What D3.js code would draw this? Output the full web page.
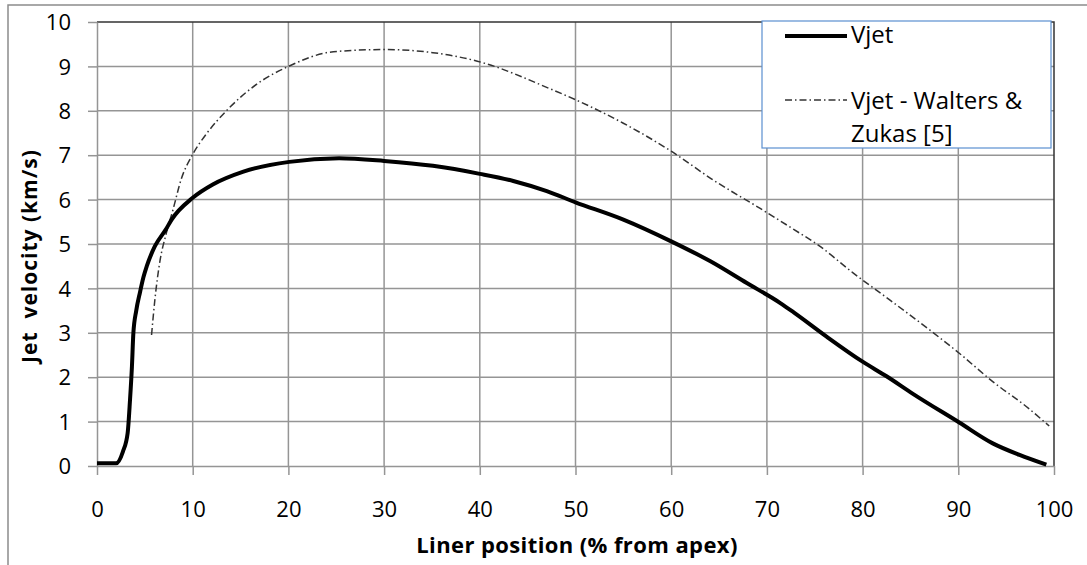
<!DOCTYPE html>
<html>
<head>
<meta charset="utf-8">
<script src="https://cdn.jsdelivr.net/npm/d3@7"></script>
<style>
  body { margin: 0; background: #fff; }
  svg { display: block; font-family: "Open Sans", sans-serif; }
</style>
</head>
<body>
<svg width="1087" height="565"></svg>
<script>
// Vjet (simulation) - liner position % vs jet velocity km/s
var vjetX = [0, 1, 2.0, 2.7, 3.2, 3.45, 3.65, 3.8, 4.1, 4.5, 4.85, 5.2, 6.05, 7.2, 7.8, 10, 12.1, 15.3, 20.1, 25.3, 30, 35.1, 40, 43.5, 47, 50, 55, 60, 64.1, 67.9, 71.4, 72.8, 76.2, 80, 82.5, 85.3, 90.1, 93.6, 96.4, 99.2];
var vjetY = [0.06, 0.06, 0.06, 0.32, 0.74, 1.49, 2.24, 2.99, 3.5, 3.92, 4.25, 4.5, 4.95, 5.33, 5.55, 6.04, 6.34, 6.63, 6.85, 6.93, 6.87, 6.76, 6.58, 6.42, 6.19, 5.94, 5.55, 5.06, 4.61, 4.12, 3.67, 3.46, 2.92, 2.35, 2.02, 1.62, 0.98, 0.51, 0.25, 0.03];

// Walters & Zukas [5]
var wzX = [5.7, 6.05, 6.55, 7.25, 7.95, 8.8, 10, 11.4, 13.7, 16.7, 20.1, 24.7, 30, 35.1, 40.2, 47.3, 50, 55, 60, 64.4, 69.3, 72.8, 75.4, 79, 82.9, 87.4, 90.1, 93.6, 97.1, 99.5];
var wzY = [2.95, 3.75, 4.58, 5.25, 5.78, 6.46, 7.02, 7.47, 8.04, 8.6, 9.01, 9.33, 9.38, 9.31, 9.09, 8.5, 8.25, 7.72, 7.09, 6.44, 5.8, 5.33, 4.97, 4.35, 3.73, 3.0, 2.54, 1.9, 1.34, 0.9];

var xTicks = [0, 10, 20, 30, 40, 50, 60, 70, 80, 90, 100];
var yTicks = [0, 1, 2, 3, 4, 5, 6, 7, 8, 9, 10];
var seriesNames = ["Vjet", "Vjet - Walters &", "Zukas [5]"];

var svg = d3.select("svg");
var pLeft = 97, pRight = 1054, pTop = 22, pBottom = 466;

var x = d3.scaleLinear().domain([0, 100]).range([pLeft, pRight]);
var y = d3.scaleLinear().domain([0, 10]).range([pBottom, pTop]);

// outer chart border
svg.append("rect")
    .attr("x", 8).attr("y", 5).attr("width", 1200).attr("height", 700)
    .attr("fill", "none").attr("stroke", "#8c8c8c").attr("stroke-width", 1.5);

// gridlines
var grid = svg.append("g").attr("stroke", "#959595").attr("stroke-width", 1.5);
grid.selectAll(".vg").data(xTicks.slice(1, -1)).enter().append("line")
    .attr("x1", function(d) { return x(d); }).attr("x2", function(d) { return x(d); })
    .attr("y1", pTop).attr("y2", pBottom);
grid.selectAll(".hg").data(yTicks.slice(1, -1)).enter().append("line")
    .attr("x1", pLeft).attr("x2", pRight)
    .attr("y1", function(d) { return y(d); }).attr("y2", function(d) { return y(d); });

// plot area border (dark top / right)
svg.append("path")
    .attr("d", "M" + pLeft + "," + pTop + "H" + pRight + "V" + pBottom)
    .attr("fill", "none").attr("stroke", "#333").attr("stroke-width", 1.5);

// axes
var xAxis = svg.append("g")
    .attr("transform", "translate(0," + pBottom + ")")
    .call(d3.axisBottom(x).tickValues(xTicks).tickSize(9).tickSizeOuter(0));
xAxis.selectAll("text").attr("y", 51).attr("dy", 0);

var yAxis = svg.append("g")
    .attr("transform", "translate(" + pLeft + ",0)")
    .call(d3.axisLeft(y).tickValues(yTicks).tickSize(9).tickSizeOuter(0));
yAxis.selectAll("text").attr("x", -26).attr("dy", "0.35em");

svg.selectAll(".domain, .tick line").attr("stroke", "#959595").attr("stroke-width", 1.5);
svg.selectAll(".tick text")
    .attr("fill", "#000")
    .style("font-family", "'Open Sans', sans-serif")
    .style("font-size", "22px");

// axis titles
svg.append("text")
    .attr("x", 577).attr("y", 553)
    .attr("text-anchor", "middle")
    .style("font-weight", "bold").style("font-size", "22px")
    .style("letter-spacing", "0.4px")
    .text("Liner position (% from apex)");

svg.append("text")
    .attr("transform", "translate(37,256) rotate(-90)")
    .attr("text-anchor", "middle")
    .style("font-weight", "bold").style("font-size", "21px")
    .style("letter-spacing", "1px")
    .style("white-space", "pre")
    .text("Jet  velocity (km/s)");

// lines
var line = d3.line()
    .x(function(d) { return x(d[0]); })
    .y(function(d) { return y(d[1]); })
    .curve(d3.curveMonotoneX);

svg.append("path")
    .datum(d3.zip(wzX, wzY))
    .attr("d", line)
    .attr("fill", "none")
    .attr("stroke", "#333").attr("stroke-width", 1.5)
    .attr("stroke-dasharray", "7,3,1.5,3");

svg.append("path")
    .datum(d3.zip(vjetX, vjetY))
    .attr("d", line)
    .attr("fill", "none")
    .attr("stroke", "#000").attr("stroke-width", 4)
    .attr("stroke-linejoin", "round");

// legend
var legend = svg.append("g");
legend.append("rect")
    .attr("x", 762).attr("y", 21).attr("width", 289).attr("height", 127)
    .attr("fill", "#fff").attr("stroke", "#5b8fd0").attr("stroke-width", 1.2);
legend.append("line")
    .attr("x1", 785).attr("x2", 847).attr("y1", 36).attr("y2", 36)
    .attr("stroke", "#000").attr("stroke-width", 4);
legend.append("line")
    .attr("x1", 785).attr("x2", 847).attr("y1", 100).attr("y2", 100)
    .attr("stroke", "#333").attr("stroke-width", 1.5)
    .attr("stroke-dasharray", "7,3,1.5,3");
legend.selectAll("text").data(seriesNames).enter().append("text")
    .attr("x", 851)
    .attr("y", function(d, i) { return [43, 109, 142][i]; })
    .style("font-size", "24px")
    .text(function(d) { return d; });
</script>
</body>
</html>
